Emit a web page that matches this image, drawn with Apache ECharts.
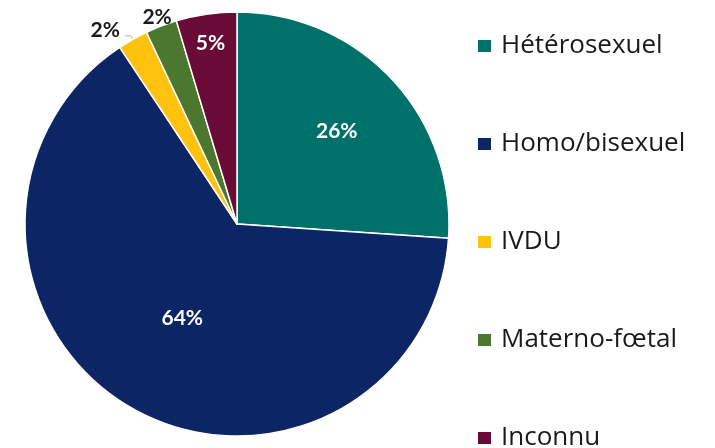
<!DOCTYPE html>
<html>
<head>
<meta charset="utf-8">
<script src="https://cdn.jsdelivr.net/npm/echarts@6/dist/echarts.min.js"></script>
<style>
  html, body { margin: 0; padding: 0; background: #fff; }
  #chart-container { width: 715px; height: 448px; }
</style>
</head>
<body>
<div id="chart-container"></div>
<script>
var categories = ["Hétérosexuel", "Homo/bisexuel", "IVDU", "Materno-fœtal", "Inconnu"];
var shares = [26.0, 64.4, 2.3, 2.4, 4.6];
var colors = ["#00706a", "#0b2565", "#ffc20e", "#4b772f", "#6a0a36"];

var dom = document.getElementById("chart-container");
var myChart = echarts.init(dom, null, { renderer: "canvas" });

var FONT = "Lato";
var pct = function (p) { return Math.round(p.value) + "%"; };

// main pie: only the 64% label inside, the two small ones outside
var mainData = categories.map(function (name, i) {
  var item = { name: name, value: shares[i], itemStyle: { color: colors[i] }, label: { show: false }, labelLine: { show: false } };
  if (i === 1) {
    item.label = { show: true, position: "inside", color: "#fff" };
  }
  if (i === 2 || i === 3) {
    item.label = { show: true, position: "outside", color: "#1a1a1a" };
    item.labelLine = { show: i === 2, length: 4, length2: 6, lineStyle: { color: "#b0b0b0", width: 1 } };
  }
  return item;
});

// transparent rings just to place the other inside labels at Excel's radii
function overlay(idx, inner, outer) {
  return {
    type: "pie",
    center: [237, 224],
    radius: [inner, outer],
    startAngle: 90,
    silent: true,
    legendHoverLink: false,
    emphasis: { disabled: true },
    itemStyle: { color: "transparent", borderWidth: 0 },
    label: { show: false },
    labelLine: { show: false },
    data: categories.map(function (name, i) {
      return {
        name: name,
        value: shares[i],
        label: i === idx ? { show: true, position: "inside", color: "#fff", fontFamily: FONT, fontWeight: "bold", fontSize: 21, formatter: pct } : { show: false }
      };
    })
  };
}

var option = {
  animation: false,
  legend: {
    orient: "vertical",
    left: 471,
    top: 28,
    height: 500,
    data: categories,
    icon: "rect",
    itemWidth: 15,
    itemHeight: 14,
    itemGap: 72,
    selectedMode: false,
    textStyle: { fontFamily: "Open Sans", fontSize: 26, color: "#1a1a1a", lineHeight: 26, padding: [0, 0, 0, 4] }
  },
  series: [
    {
      type: "pie",
      center: [237, 224],
      radius: [0, 212],
      startAngle: 90,
      clockwise: true,
      avoidLabelOverlap: false,
      emphasis: { disabled: true },
      itemStyle: { borderColor: "#fff", borderWidth: 1.5 },
      label: { fontFamily: FONT, fontWeight: "bold", fontSize: 21, formatter: pct },
      labelLayout: function (params) {
        if (params.dataIndex === 3) return { dx: 23, dy: -5 };
        if (params.dataIndex === 2) return { dx: 0, dy: -6 };
        return {};
      },
      data: mainData
    },
    overlay(0, 106, 161),
    overlay(4, 170, 190)
  ]
};

myChart.setOption(option);
window.addEventListener("resize", myChart.resize);
</script>
</body>
</html>
